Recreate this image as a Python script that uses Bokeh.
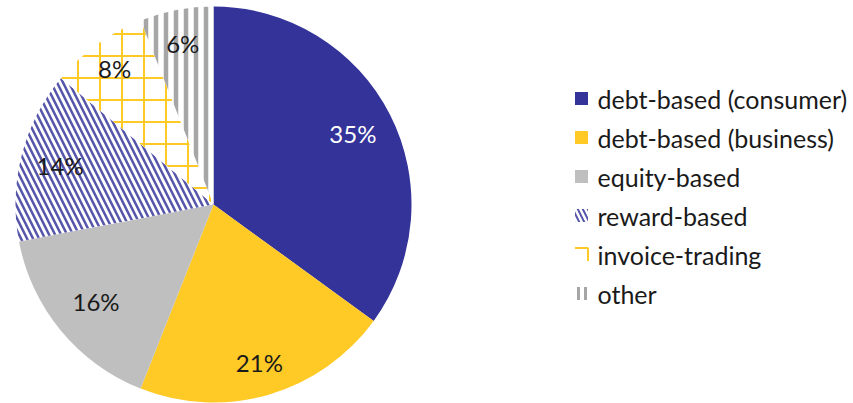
import numpy as np
from bokeh.plotting import figure
from bokeh.models import ColumnDataSource, Range1d
from bokeh.embed import file_html
from bokeh.resources import INLINE
from bokeh.core.properties import value

# ---- data ----
categories = ["debt-based (consumer)", "debt-based (business)", "equity-based",
              "reward-based", "invoice-trading", "other"]
shares = [35, 21, 16, 14, 8, 6]
pct_labels = ["35%", "21%", "16%", "14%", "8%", "6%"]

# ---- styles ----
fills = ["#333399", "#FFC926", "#BFBFBF", "#FFFFFF", "#FFFFFF", "#FFFFFF"]
hatches = [" ", " ", " ", "\\", "+", "|"]
hatch_colors = ["#333399", "#FFC926", "#BFBFBF", "#5555AA", "#FFC926", "#A6A6A6"]
hatch_scales = [12, 12, 12, 12, 22, 10]
hatch_weights = [1, 1, 1, 2.5, 2, 4.5]
label_colors = ["#FFFFFF", "#1A1A1A", "#1A1A1A", "#1A1A1A", "#1A1A1A", "#1A1A1A"]
label_r_frac = [0.79, 0.83, 0.77, 0.80, 0.85, 0.83]
FONT = "Lato"

W, H = 853, 403
CX, CY, R = 213, 199, 198

total = float(sum(shares))
frac = np.array(shares) / total
cum = np.concatenate([[0.0], np.cumsum(frac)])
start = np.pi / 2 - cum[:-1] * 2 * np.pi
end = np.pi / 2 - cum[1:] * 2 * np.pi
mid = (start + end) / 2
lr = np.array(label_r_frac) * R

src = ColumnDataSource(dict(
    cat=categories, start=start, end=end, fill=fills, hatch=hatches,
    hcol=hatch_colors, hscale=hatch_scales, hweight=hatch_weights,
    lx=CX + lr * np.cos(mid), ly=CY + lr * np.sin(mid),
    lab=pct_labels, lcol=label_colors,
))

p = figure(width=W, height=H, output_backend="svg", toolbar_location=None,
           x_range=Range1d(0, W), y_range=Range1d(0, H), min_border=0)
p.axis.visible = False
p.grid.visible = False
p.outline_line_color = None
p.background_fill_color = "white"

p.wedge(x=CX, y=CY, radius=R, start_angle="start", end_angle="end",
        direction="clock", source=src, fill_color="fill", line_color=None,
        hatch_pattern="hatch", hatch_color="hcol", hatch_scale="hscale",
        hatch_weight="hweight")

p.text(x="lx", y="ly", text="lab", source=src, text_color="lcol",
       text_font=value(FONT), text_font_size="24px", text_align="center",
       text_baseline="middle")

# ---- legend ----
LX, LY0, LDY, MS = 581, 305, 39, 13
n = len(categories)
ly = [LY0 - i * LDY for i in range(n)]
leg = ColumnDataSource(dict(
    x=[LX] * n, y=ly, fill=fills, hatch=hatches, hcol=hatch_colors,
    hscale=[12, 12, 12, 10, 40, 7], hweight=[1, 1, 1, 2, 0, 3],
))
p.rect(x="x", y="y", width=MS, height=MS, source=leg, fill_color="fill",
       line_color=None, hatch_pattern="hatch", hatch_color="hcol",
       hatch_scale="hscale", hatch_weight="hweight")
# invoice-trading legend key: corner of the grid pattern (top + right edge)
inv = categories.index("invoice-trading")
h = MS / 2
p.line(x=[LX - h, LX + h, LX + h], y=[ly[inv] + h, ly[inv] + h, ly[inv] - h],
       line_color=hatch_colors[inv], line_width=2)
p.text(x=[LX + 16] * n, y=ly, text=categories,
       text_font=value(FONT), text_font_size="25px", text_color="#1A1A1A",
       text_baseline="middle", text_align="left")

open("out.html", "w").write(file_html(p, INLINE))
